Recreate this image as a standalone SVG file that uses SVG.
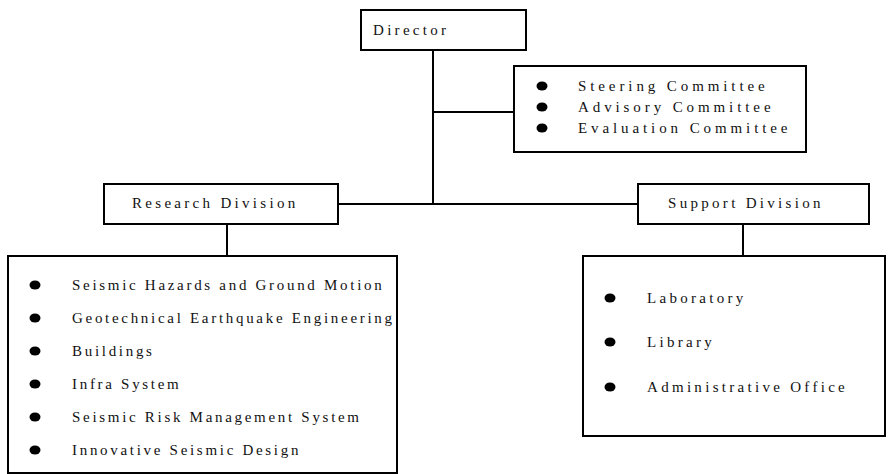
<svg xmlns="http://www.w3.org/2000/svg" width="890" height="474" viewBox="0 0 890 474">
<style>
.box{fill:#fff;stroke:#000;stroke-width:2}
.ln{stroke:#000;stroke-width:2;fill:none}
.t{font-family:"Liberation Serif","Times New Roman",serif;font-size:15px;letter-spacing:2.7px;fill:#111}
.h{letter-spacing:3.3px}
.c{letter-spacing:3.9px}
.b{fill:#000}
</style>
<rect width="890" height="474" fill="#fff"/>
<g id="connectors">
<line class="ln" x1="433" y1="50" x2="433" y2="204"/>
<line class="ln" x1="433" y1="112" x2="514" y2="112"/>
<line class="ln" x1="338" y1="204" x2="638" y2="204"/>
<line class="ln" x1="227" y1="224" x2="227" y2="256"/>
<line class="ln" x1="743" y1="224" x2="743" y2="256"/>
</g>
<g id="director">
<rect class="box" x="361" y="10" width="165" height="40"/>
<text class="t h" x="373" y="35">Director</text>
</g>
<g id="committees">
<rect class="box" x="514" y="66" width="292" height="86"/>
<ellipse class="b" cx="542" cy="86" rx="5.5" ry="4.5"/>
<ellipse class="b" cx="542" cy="107" rx="5.5" ry="4.5"/>
<ellipse class="b" cx="542" cy="128" rx="5.5" ry="4.5"/>
<text class="t c" x="578" y="91">Steering Committee</text>
<text class="t c" x="578" y="112">Advisory Committee</text>
<text class="t c" x="578" y="133">Evaluation Committee</text>
</g>
<g id="research">
<rect class="box" x="104" y="184" width="234" height="40"/>
<text class="t h" x="132" y="208">Research Division</text>
</g>
<g id="support">
<rect class="box" x="638" y="184" width="231" height="40"/>
<text class="t h" x="668" y="208">Support Division</text>
</g>
<g id="research-list">
<rect class="box" x="8" y="256" width="389" height="217"/>
<ellipse class="b" cx="35" cy="285" rx="5.5" ry="4.5"/>
<ellipse class="b" cx="35" cy="318" rx="5.5" ry="4.5"/>
<ellipse class="b" cx="35" cy="351" rx="5.5" ry="4.5"/>
<ellipse class="b" cx="35" cy="384" rx="5.5" ry="4.5"/>
<ellipse class="b" cx="35" cy="417" rx="5.5" ry="4.5"/>
<ellipse class="b" cx="35" cy="450" rx="5.5" ry="4.5"/>
<text class="t" x="72" y="290">Seismic Hazards and Ground Motion</text>
<text class="t" x="72" y="323">Geotechnical Earthquake Engineering</text>
<text class="t" x="72" y="356">Buildings</text>
<text class="t" x="72" y="389">Infra System</text>
<text class="t" x="72" y="422">Seismic Risk Management System</text>
<text class="t" x="72" y="455">Innovative Seismic Design</text>
</g>
<g id="support-list">
<rect class="box" x="583" y="256" width="302" height="180"/>
<ellipse class="b" cx="610" cy="298" rx="5.5" ry="4.5"/>
<ellipse class="b" cx="610" cy="342" rx="5.5" ry="4.5"/>
<ellipse class="b" cx="610" cy="387" rx="5.5" ry="4.5"/>
<text class="t h" x="647" y="303">Laboratory</text>
<text class="t h" x="647" y="347">Library</text>
<text class="t h" x="647" y="392">Administrative Office</text>
</g>
</svg>
